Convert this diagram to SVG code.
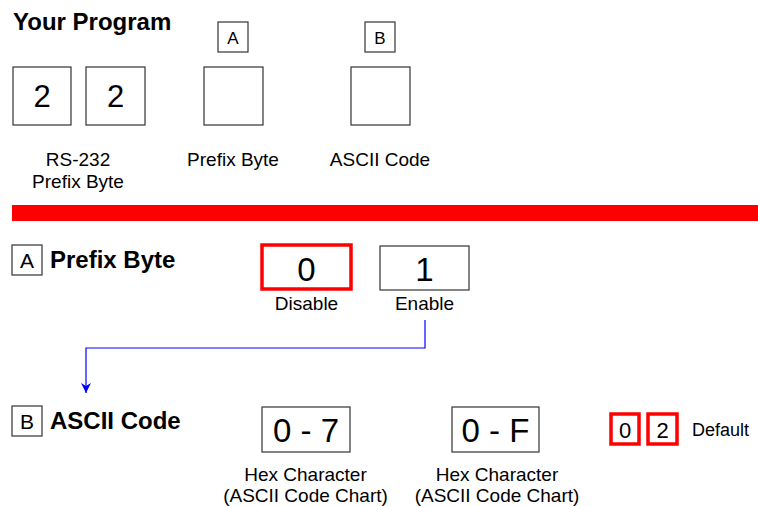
<svg xmlns="http://www.w3.org/2000/svg" width="758" height="506" viewBox="0 0 758 506">
<style>
text{font-family:"Liberation Sans",Arial,sans-serif;fill:#000}
.box{fill:#fff;stroke:#333;stroke-width:1.2}
.red{fill:#fff;stroke:#f00;stroke-width:3.5}
.h{font-weight:bold;font-size:24px}
.lbl{font-size:19px;text-anchor:middle}
.big{font-size:33px;text-anchor:middle}
.mid{font-size:31px;text-anchor:middle}
.let{font-size:17px;text-anchor:middle}
.let2{font-size:21px;text-anchor:middle}
</style>
<defs>
<marker id="arr" viewBox="0 0 10 10" refX="10" refY="5" markerWidth="10" markerHeight="10" markerUnits="userSpaceOnUse" orient="auto">
<path d="M0,0 L10,5 L0,10 L3,5 z" fill="#00f"/>
</marker>
</defs>
<g id="header">
<text x="13" y="30" class="h">Your Program</text>
</g>
<g id="box-rs1"><rect class="box" x="13" y="67" width="58" height="58"/><text x="42" y="107" class="mid">2</text></g>
<g id="box-rs2"><rect class="box" x="86" y="67" width="59" height="58"/><text x="115.5" y="107" class="mid">2</text></g>
<g id="label-rs"><text x="78" y="166" class="lbl">RS-232</text><text x="78" y="188" class="lbl">Prefix Byte</text></g>
<g id="tag-a"><rect class="box" x="218" y="22" width="30" height="30"/><text x="233" y="44" class="let">A</text></g>
<g id="box-a"><rect class="box" x="204" y="67" width="59" height="58"/><text x="233" y="166" class="lbl">Prefix Byte</text></g>
<g id="tag-b"><rect class="box" x="365" y="22" width="30" height="30"/><text x="380" y="44" class="let">B</text></g>
<g id="box-b"><rect class="box" x="351" y="67" width="59" height="58"/><text x="380" y="166" class="lbl">ASCII Code</text></g>
<g id="divider"><rect x="12" y="205" width="746" height="16" fill="#f00"/></g>
<g id="sec-a"><rect class="box" x="12" y="245" width="30" height="30"/><text x="27" y="268" class="let2">A</text><text x="50" y="268" class="h">Prefix Byte</text></g>
<g id="opt-0"><rect class="red" x="262" y="245" width="89" height="44"/><text x="306.5" y="281" class="big">0</text><text x="306.5" y="310" class="lbl">Disable</text></g>
<g id="opt-1"><rect class="box" x="380" y="246" width="89" height="44"/><text x="424.5" y="281" class="big">1</text><text x="424.5" y="310" class="lbl">Enable</text></g>
<g id="sec-b"><rect class="box" x="12" y="406" width="30" height="30"/><text x="27" y="429" class="let2">B</text><text x="50" y="429" class="h">ASCII Code</text></g>
<g id="opt-07"><rect class="box" x="262" y="407" width="88" height="45"/><text x="306" y="442" class="big">0 - 7</text><text x="305.5" y="481" class="lbl">Hex Character</text><text x="305.5" y="502" class="lbl">(ASCII Code Chart)</text></g>
<g id="opt-0f"><rect class="box" x="452" y="407" width="87" height="45"/><text x="495.5" y="442" class="big">0 - F</text><text x="497" y="481" class="lbl">Hex Character</text><text x="497" y="502" class="lbl">(ASCII Code Chart)</text></g>
<g id="default"><rect class="red" x="611" y="414" width="28" height="30"/><text x="625" y="438" class="let" style="font-size:22px">0</text><rect class="red" x="648" y="414" width="29" height="30"/><text x="662.5" y="438" class="let" style="font-size:22px">2</text><text x="692" y="436" style="font-size:18px">Default</text></g>
<g id="connectors"><path d="M425,320 V348 H86 V393" fill="none" stroke="#00f" stroke-width="1.2" marker-end="url(#arr)"/></g>
</svg>
